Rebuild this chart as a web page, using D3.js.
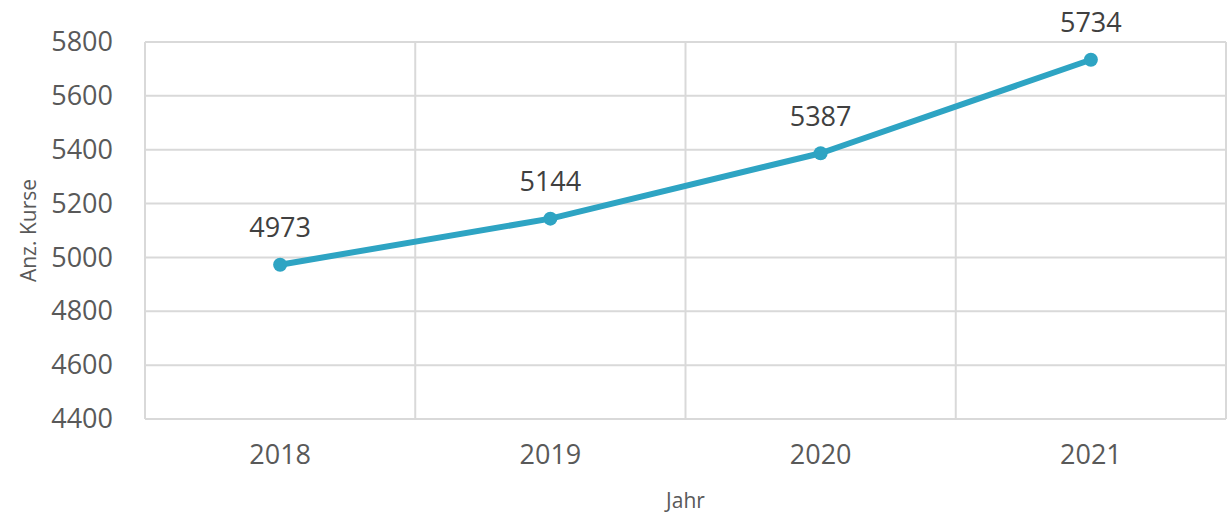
<!DOCTYPE html>
<html><head><meta charset="utf-8">
<script src="https://cdn.jsdelivr.net/npm/d3@7"></script>
<style>
body{margin:0;background:#fff;}
svg{display:block;font-family:"Open Sans",sans-serif;}
</style></head>
<body>
<svg id="chart" width="1232" height="516"></svg>
<script>
const categories = ["2018","2019","2020","2021"];
const values = [4973,5144,5387,5734];
const yTicks = [4400,4600,4800,5000,5200,5400,5600,5800];
const yTitle = "Anz. Kurse";
const xTitle = "Jahr";

const svg = d3.select("#chart");
const m = {left:145, right:6, top:42, bottom:97};
const W = 1232, H = 516;
const x = d3.scaleBand().domain(categories).range([m.left, W-m.right]);
const y = d3.scaleLinear().domain([4400,5800]).range([H-m.bottom, m.top]);
const grid = "#d9d9d9", textCol = "#595959", lineCol = "#2ea4c3";

svg.append("g").selectAll("line").data(yTicks).join("line")
  .attr("x1", m.left).attr("x2", W-m.right)
  .attr("y1", d=>y(d)).attr("y2", d=>y(d))
  .attr("stroke", grid).attr("stroke-width", 2);
const bounds = categories.map(c=>x(c)).concat([x(categories[categories.length-1])+x.bandwidth()]);
svg.append("g").selectAll("line").data(bounds).join("line")
  .attr("x1", d=>d).attr("x2", d=>d)
  .attr("y1", m.top).attr("y2", H-m.bottom)
  .attr("stroke", grid).attr("stroke-width", 2);

const yAxis = d3.axisLeft(y).tickValues(yTicks).tickSize(0).tickPadding(32).tickFormat(d3.format("d"));
const ya = svg.append("g").attr("transform",`translate(${m.left},0)`).call(yAxis);
ya.select(".domain").remove();
ya.selectAll("text").attr("font-size", 27).attr("fill", textCol).attr("font-family","Open Sans");

const xAxis = d3.axisBottom(x).tickSize(0).tickPadding(26);
const xa = svg.append("g").attr("transform",`translate(0,${H-m.bottom})`).call(xAxis);
xa.select(".domain").remove();
xa.selectAll("text").attr("font-size", 27).attr("fill", textCol).attr("font-family","Open Sans");

svg.append("text").attr("x", (m.left+W-m.right)/2).attr("y", 508)
  .attr("text-anchor","middle").attr("font-size",21).attr("fill",textCol).text(xTitle);
svg.append("text").attr("transform",`translate(36,${(m.top+H-m.bottom)/2}) rotate(-90)`)
  .attr("text-anchor","middle").attr("font-size",21).attr("fill",textCol).text(yTitle);

const cx = d=>x(d)+x.bandwidth()/2;
const pts = categories.map((c,i)=>({c, v:values[i]}));
svg.append("path").datum(pts)
  .attr("d", d3.line().x(d=>cx(d.c)).y(d=>y(d.v)))
  .attr("fill","none").attr("stroke",lineCol).attr("stroke-width",6).attr("stroke-linejoin","round");
svg.append("g").selectAll("circle").data(pts).join("circle")
  .attr("cx", d=>cx(d.c)).attr("cy", d=>y(d.v)).attr("r", 7).attr("fill", lineCol);
svg.append("g").selectAll("text").data(pts).join("text")
  .attr("x", d=>cx(d.c)).attr("y", d=>y(d.v)-37).attr("dy","0.35em")
  .attr("text-anchor","middle").attr("font-size",27).attr("fill","#404040")
  .text(d=>d.v);
</script>
</body></html>
